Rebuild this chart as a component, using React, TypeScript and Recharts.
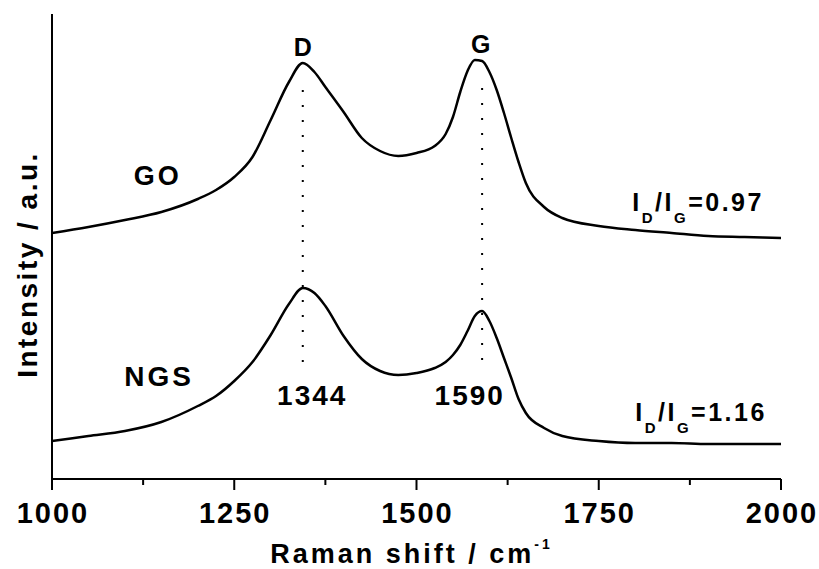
import React from 'react';
import {
  LineChart,
  Line,
  XAxis,
  YAxis,
  ReferenceLine,
  ReferenceDot,
} from 'recharts';

// Raman shift (cm-1) sampled along both spectra
const shifts = [
  1000, 1050, 1100, 1150, 1200, 1225, 1250, 1275, 1300, 1325, 1344, 1360, 1375,
  1400, 1425, 1450, 1475, 1500, 1525, 1540, 1550, 1560, 1570, 1580, 1590, 1600,
  1610, 1620, 1630, 1640, 1650, 1675, 1700, 1750, 1800, 1850, 1900, 1950, 2000,
];

// intensity, a.u. (GO spectrum is offset above NGS)
const goIntensity = [
  246, 252, 259, 267, 280, 289, 302, 322, 359, 397, 416, 407, 392,
  367, 341, 328, 323, 326, 333, 345, 362, 387, 408, 419, 418, 407,
  389, 366, 341, 317, 296, 272, 261, 253, 249, 246, 243, 242, 241,
];
const ngsIntensity = [
  38, 43, 48, 57, 73, 83, 98, 117, 144, 175, 191, 186, 173,
  143, 120, 108, 104, 106, 111, 117, 124, 134, 148, 163, 168, 158,
  141, 121, 101, 80, 66, 51, 43, 38, 36, 36, 35, 35, 35,
];

const majorTicks = [1000, 1250, 1500, 1750, 2000];
const allTicks = [1000, 1125, 1250, 1375, 1500, 1625, 1750, 1875, 2000];

const dPeak = 1344;
const gPeak = 1590;

const data = shifts.map((s, i) => ({ shift: s, go: goIntensity[i], ngs: ngsIntensity[i] }));

const FONT = 'Arial, "Liberation Sans", sans-serif';
const AXIS = { stroke: '#000', strokeWidth: 2 };

type Note = { x: number; y: number; anchor: 'start' | 'middle'; size: number; spacing: number; text?: string; ratio?: string };

const notes: Note[] = [
  { x: 1344, y: 423, anchor: 'middle', size: 25, spacing: 0, text: 'D' },
  { x: 1588, y: 426, anchor: 'middle', size: 25, spacing: 0, text: 'G' },
  { x: 1145, y: 294, anchor: 'middle', size: 27, spacing: 3, text: 'GO' },
  { x: 1147, y: 93, anchor: 'middle', size: 28, spacing: 3, text: 'NGS' },
  { x: 1357, y: 74, anchor: 'middle', size: 28, spacing: 2, text: '1344' },
  { x: 1573, y: 74, anchor: 'middle', size: 28, spacing: 2, text: '1590' },
  { x: 1796, y: 268, anchor: 'start', size: 25, spacing: 2.5, ratio: '0.97' },
  { x: 1800, y: 58, anchor: 'start', size: 25, spacing: 2.5, ratio: '1.16' },
];

const renderNote = (n: Note) => (props: any) => {
  const { cx, cy } = props;
  if (cx == null || cy == null) return <g />;
  if (n.ratio) {
    return (
      <text x={cx} y={cy} fontFamily={FONT} fontWeight="bold" fontSize={n.size} letterSpacing={n.spacing} fill="#000">
        <tspan>I</tspan>
        <tspan dy={12} fontSize={15}>D</tspan>
        <tspan dy={-12}>/I</tspan>
        <tspan dy={12} fontSize={15}>G</tspan>
        <tspan dy={-12}>={n.ratio}</tspan>
      </text>
    );
  }
  return (
    <text x={cx} y={cy} textAnchor={n.anchor} fontFamily={FONT} fontWeight="bold" fontSize={n.size} letterSpacing={n.spacing} fill="#000">
      {n.text}
    </text>
  );
};

// major ticks carry a label and a long mark, minor ones only a short mark
const ShiftTick = (props: any) => {
  const { x, y, payload } = props;
  const major = majorTicks.includes(payload.value);
  return (
    <g>
      <line x1={x} y1={y} x2={x} y2={y + (major ? 11 : 6)} stroke="#000" strokeWidth={2} />
      {major && (
        <text x={x + 1} y={y + 44} textAnchor="middle" fontFamily={FONT} fontWeight="bold" fontSize={29} letterSpacing={2} fill="#000">
          {payload.value}
        </text>
      )}
    </g>
  );
};

const XTitle = (props: any) => {
  const { x, y, width } = props.viewBox;
  return (
    <text x={x + width / 2 - 5} y={y + 84} textAnchor="middle" fontFamily={FONT} fontWeight="bold" fontSize={27} letterSpacing={3} fill="#000">
      Raman shift / cm<tspan dy={-14} fontSize={14}>-1</tspan>
    </text>
  );
};

const YTitle = (props: any) => {
  const { x, y, height } = props.viewBox;
  const cx = x + 37;
  const cy = y + height / 2 + 18;
  return (
    <text x={cx} y={cy} transform={`rotate(-90, ${cx}, ${cy})`} textAnchor="middle" fontFamily={FONT} fontWeight="bold" fontSize={28} letterSpacing={2.5} fill="#000">
      Intensity / a.u.
    </text>
  );
};

export default function App() {
  return (
    <div style={{ position: 'absolute', left: 0, top: 0, background: '#fff' }}>
      <LineChart width={819} height={569} data={data} margin={{ top: 14, right: 38, bottom: 0, left: 0 }}>
        <XAxis
          xAxisId="main"
          type="number"
          dataKey="shift"
          domain={[1000, 2000]}
          ticks={allTicks}
          interval={0}
          allowDataOverflow
          height={90}
          axisLine={AXIS}
          tickLine={false}
          tickSize={0}
          tickMargin={0}
          tick={<ShiftTick />}
          label={<XTitle />}
        />
        <XAxis
          xAxisId="top"
          orientation="top"
          type="number"
          dataKey="shift"
          domain={[1000, 2000]}
          allowDataOverflow
          height={0}
          axisLine={AXIS}
          tick={false}
          tickLine={false}
        />
        <YAxis
          yAxisId="left"
          type="number"
          domain={[0, 465]}
          allowDataOverflow
          width={52}
          axisLine={AXIS}
          tick={false}
          tickLine={false}
          label={<YTitle />}
        />
        <YAxis
          yAxisId="right"
          orientation="right"
          type="number"
          domain={[0, 465]}
          allowDataOverflow
          width={0}
          axisLine={AXIS}
          tick={false}
          tickLine={false}
        />
        <ReferenceLine
          xAxisId="main"
          yAxisId="left"
          segment={[{ x: dPeak, y: 117 }, { x: dPeak, y: 401 }]}
          stroke="#000"
          strokeWidth={2}
          strokeDasharray="2 13"
        />
        <ReferenceLine
          xAxisId="main"
          yAxisId="left"
          segment={[{ x: gPeak, y: 119 }, { x: gPeak, y: 401 }]}
          stroke="#000"
          strokeWidth={2}
          strokeDasharray="2 13"
        />
        <Line xAxisId="main" yAxisId="left" type="monotone" dataKey="go" stroke="#000" strokeWidth={2.5} dot={false} isAnimationActive={false} />
        <Line xAxisId="main" yAxisId="left" type="monotone" dataKey="ngs" stroke="#000" strokeWidth={2.5} dot={false} isAnimationActive={false} />
        {notes.map((n, i) => (
          <ReferenceDot key={i} xAxisId="main" yAxisId="left" x={n.x} y={n.y} r={0} shape={renderNote(n)} />
        ))}
      </LineChart>
    </div>
  );
}
